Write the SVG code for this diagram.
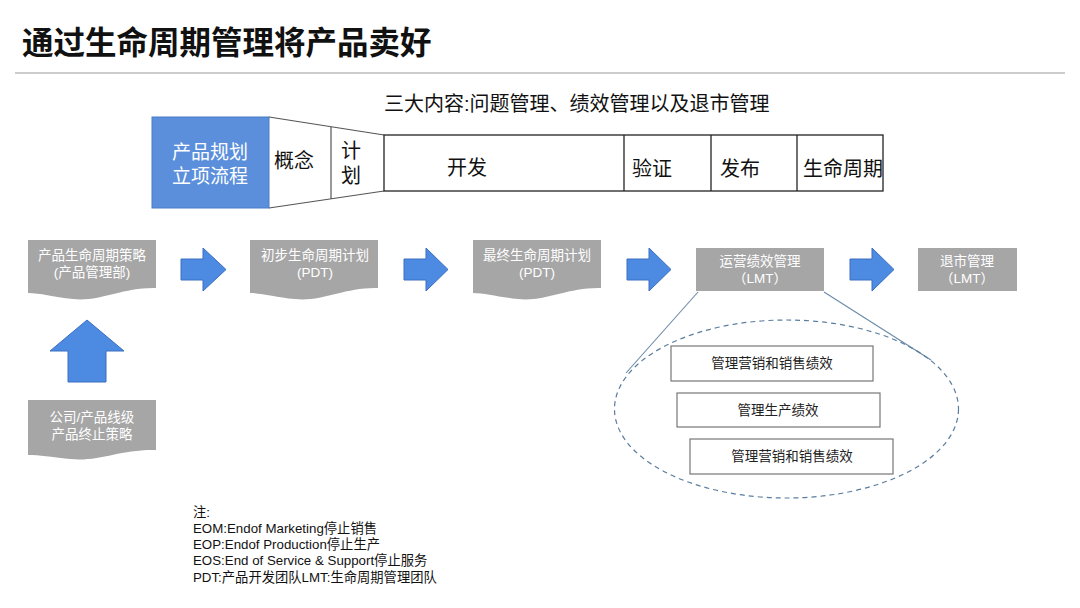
<svg xmlns="http://www.w3.org/2000/svg" width="1080" height="608" viewBox="0 0 1080 608">
<style>
text{font-family:"Liberation Sans","Noto Sans CJK SC",sans-serif;}
.w{fill:#fff;font-size:13.5px;text-anchor:middle;}
.g{fill:#a6a6a6;}
.arr{fill:#4d8be3;stroke:#3a6fc0;stroke-width:1;}
.hd{fill:#111;font-size:20px;}
.bx{fill:#fff;stroke:#777;stroke-width:1.2;}
.bt{fill:#222;font-size:13.5px;text-anchor:middle;}
.nt{fill:#111;font-size:13.3px;}
.ln{stroke:#555;stroke-width:1.2;fill:none;}
</style>
<defs>
<path id="doc" class="g" d="M0,0 H128 V48 C95,47 72,62 45,59 C25,57 12,53 0,53 Z"/>
</defs>
<rect width="1080" height="608" fill="#fff"/>
<text x="22" y="54" font-size="31.5" font-weight="bold" fill="#111">通过生命周期管理将产品卖好</text>
<line x1="15" y1="73" x2="1065" y2="73" stroke="#bbb" stroke-width="1.5"/>
<text x="384" y="111" font-size="20" fill="#111">三大内容:问题管理、绩效管理以及退市管理</text>

<g id="phase-bar">
<rect x="152" y="117" width="117" height="91" fill="#5b8fdb" stroke="#4a7cc8"/>
<text x="210" y="159" font-size="19" fill="#fff" text-anchor="middle">产品规划</text>
<text x="210" y="183" font-size="19" fill="#fff" text-anchor="middle">立项流程</text>
<polyline class="ln" points="269,117 384,135"/>
<polyline class="ln" points="269,208 384,191"/>
<line class="ln" x1="331" y1="127" x2="331" y2="199"/>
<text x="294" y="168" class="hd" text-anchor="middle">概念</text>
<text x="351" y="158" class="hd" text-anchor="middle">计</text>
<text x="351" y="183" class="hd" text-anchor="middle">划</text>
<rect x="384" y="135" width="499" height="56" fill="none" stroke="#222" stroke-width="1.3"/>
<line x1="624" y1="135" x2="624" y2="191" stroke="#222" stroke-width="1.3"/>
<line x1="711" y1="135" x2="711" y2="191" stroke="#222" stroke-width="1.3"/>
<line x1="797" y1="135" x2="797" y2="191" stroke="#222" stroke-width="1.3"/>
<text x="467" y="175" class="hd" text-anchor="middle">开发</text>
<text x="652" y="176" class="hd" text-anchor="middle">验证</text>
<text x="740" y="176" class="hd" text-anchor="middle">发布</text>
<text x="843" y="176" class="hd" text-anchor="middle">生命周期</text>
</g>

<g id="n1">
<use href="#doc" x="28" y="240"/>
<text class="w" x="92" y="260">产品生命周期策略</text>
<text class="w" x="92" y="277">(产品管理部)</text>
</g>
<g id="n2">
<use href="#doc" x="250" y="240"/>
<text class="w" x="315" y="260">初步生命周期计划</text>
<text class="w" x="315" y="277">(PDT)</text>
</g>
<g id="n3">
<use href="#doc" x="473" y="240"/>
<text class="w" x="537" y="260">最终生命周期计划</text>
<text class="w" x="537" y="277">(PDT)</text>
</g>
<g id="n4">
<rect class="g" x="696" y="248" width="128" height="43"/>
<text class="w" x="760" y="266">运营绩效管理</text>
<text class="w" x="760" y="283">（LMT）</text>
</g>
<g id="n5">
<rect class="g" x="918" y="248" width="99" height="43"/>
<text class="w" x="967" y="266">退市管理</text>
<text class="w" x="967" y="283">（LMT）</text>
</g>
<g id="n6">
<path class="g" d="M28,400 H156 V450 C120,449 100,462 70,459 C50,457 40,455 28,455 Z"/>
<text class="w" x="92" y="422">公司/产品线级</text>
<text class="w" x="92" y="439">产品终止策略</text>
</g>

<g id="m1">
<rect class="bx" x="671" y="346" width="202" height="35"/>
<text class="bt" x="772" y="368">管理营销和销售绩效</text>
</g>
<g id="m2">
<rect class="bx" x="677" y="393" width="203" height="34"/>
<text class="bt" x="778" y="415">管理生产绩效</text>
</g>
<g id="m3">
<rect class="bx" x="690" y="439" width="203" height="35"/>
<text class="bt" x="792" y="461">管理营销和销售绩效</text>
</g>

<g id="connectors">
<path class="arr" d="M181,259 H203 V248 L226,269.5 L203,291 V280 H181 Z"/>
<path class="arr" d="M404,259 H426 V248 L448,269.5 L426,291 V280 H404 Z"/>
<path class="arr" d="M627,259 H649 V248 L671,269.5 L649,291 V280 H627 Z"/>
<path class="arr" d="M850,259 H872 V248 L894,269.5 L872,291 V280 H850 Z"/>
<path class="arr" d="M68,382 V351 H50 L87,320 L124,351 H106 V382 Z"/>
<line x1="698" y1="292" x2="626" y2="373" stroke="#6a8aa8" stroke-width="1.1"/>
<line x1="824" y1="292" x2="931" y2="360" stroke="#6a8aa8" stroke-width="1.1"/>
<ellipse cx="786.5" cy="409" rx="172" ry="89" fill="none" stroke="#5a7d9e" stroke-width="1.2" stroke-dasharray="5,4"/>
</g>

<g id="notes">
<text class="nt" x="193" y="517">注:</text>
<text class="nt" x="193" y="533">EOM:Endof Marketing停止销售</text>
<text class="nt" x="193" y="549">EOP:Endof Production停止生产</text>
<text class="nt" x="193" y="565">EOS:End of Service &amp; Support停止服务</text>
<text class="nt" x="193" y="582">PDT:产品开发团队LMT:生命周期管理团队</text>
</g>
</svg>
